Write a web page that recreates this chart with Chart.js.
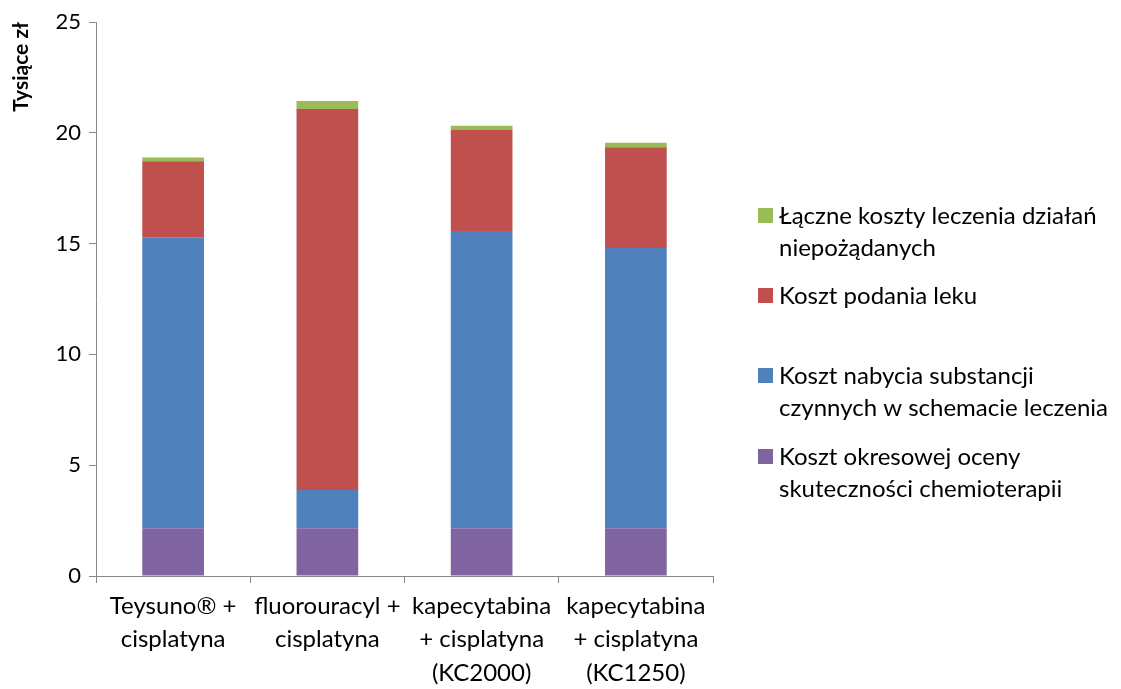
<!DOCTYPE html>
<html>
<head>
<meta charset="utf-8">
<script src="https://cdn.jsdelivr.net/npm/chart.js@4.4.1/dist/chart.umd.min.js"></script>
<style>
  html, body { margin: 0; padding: 0; background: #fff; }
  #wrap { width: 1121px; height: 689px; }
</style>
</head>
<body>
<div id="wrap"><canvas id="costChart" width="1121" height="689"></canvas></div>
<script>
// Chart data (thousand PLN)
const categories = [
    ['Teysuno® +', 'cisplatyna'],
    ['fluorouracyl +', 'cisplatyna'],
    ['kapecytabina', '+ cisplatyna', '(KC2000)'],
    ['kapecytabina', '+ cisplatyna', '(KC1250)']
];
const evaluationCost = [2.16, 2.16, 2.16, 2.16];
const substanceCost = [13.13, 1.72, 13.41, 12.64];
const administrationCost = [3.43, 17.19, 4.58, 4.55];
const adverseEventsCost = [0.17, 0.37, 0.17, 0.2];
const yTicks = [0, 5, 10, 15, 20, 25];

const seriesNames = [
    ['Koszt okresowej oceny', 'skuteczności chemioterapii'],
    ['Koszt nabycia substancji', 'czynnych w schemacie leczenia'],
    ['Koszt podania leku'],
    ['Łączne koszty leczenia działań', 'niepożądanych']
];
const seriesColors = ['#8064A2', '#4F81BD', '#C0504D', '#9BBB59'];
const FONT = 'Lato, "Open Sans", sans-serif';

// Legend drawn on the right side, Excel style
const sideLegend = {
    id: 'sideLegend',
    afterDraw(chart) {
        const ctx = chart.ctx;
        const area = chart.chartArea;
        const x = area.right + 45;
        const rows = [
            { i: 3, y: 215 },
            { i: 2, y: 295 },
            { i: 1, y: 375 },
            { i: 0, y: 456 }
        ];
        ctx.save();
        ctx.font = '24px ' + FONT;
        ctx.textBaseline = 'middle';
        rows.forEach(r => {
            ctx.fillStyle = seriesColors[r.i];
            ctx.fillRect(x, r.y - 7, 15, 15);
            ctx.fillStyle = '#000';
            seriesNames[r.i].forEach((line, k) => {
                ctx.fillText(line, x + 21, r.y + 1 + k * 32);
            });
        });
        ctx.restore();
    }
};

const ctx = document.getElementById('costChart').getContext('2d');
const costChart = new Chart(ctx, {
    type: 'bar',
    data: {
        labels: categories,
        datasets: [
            { label: seriesNames[0].join(' '), data: evaluationCost, backgroundColor: seriesColors[0] },
            { label: seriesNames[1].join(' '), data: substanceCost, backgroundColor: seriesColors[1] },
            { label: seriesNames[2].join(' '), data: administrationCost, backgroundColor: seriesColors[2] },
            { label: seriesNames[3].join(' '), data: adverseEventsCost, backgroundColor: seriesColors[3] }
        ].map(d => Object.assign(d, {
            borderWidth: 0,
            categoryPercentage: 0.4,
            barPercentage: 1
        }))
    },
    options: {
        responsive: false,
        animation: false,
        layout: { padding: { top: 22, right: 408, left: 0, bottom: 0 } },
        plugins: {
            legend: { display: false },
            tooltip: { enabled: false }
        },
        scales: {
            x: {
                stacked: true,
                offset: true,
                grid: {
                    offset: true,
                    drawOnChartArea: false,
                    color: '#868686',
                    tickLength: 7,
                    lineWidth: 1
                },
                border: { color: '#868686', width: 1 },
                ticks: {
                    color: '#000',
                    font: { family: FONT, size: 24, lineHeight: 1.4 },
                    maxRotation: 0,
                    autoSkip: false,
                    padding: 6
                },
                afterFit(scale) { scale.height = 113; }
            },
            y: {
                stacked: true,
                min: 0,
                max: 25,
                afterBuildTicks(scale) { scale.ticks = yTicks.map(v => ({ value: v })); },
                grid: {
                    drawOnChartArea: false,
                    color: '#868686',
                    tickLength: 7
                },
                border: { color: '#868686', width: 1 },
                ticks: {
                    color: '#000',
                    font: { family: FONT, size: 22 },
                    padding: 8
                },
                title: {
                    display: true,
                    text: 'Tysiące zł',
                    align: 'end',
                    color: '#000',
                    font: { family: FONT, size: 21, weight: 'bold' },
                    padding: { top: 9, bottom: 0 }
                },
                afterFit(scale) { scale.width = 96; }
            }
        }
    },
    plugins: [sideLegend]
});
</script>
</body>
</html>
